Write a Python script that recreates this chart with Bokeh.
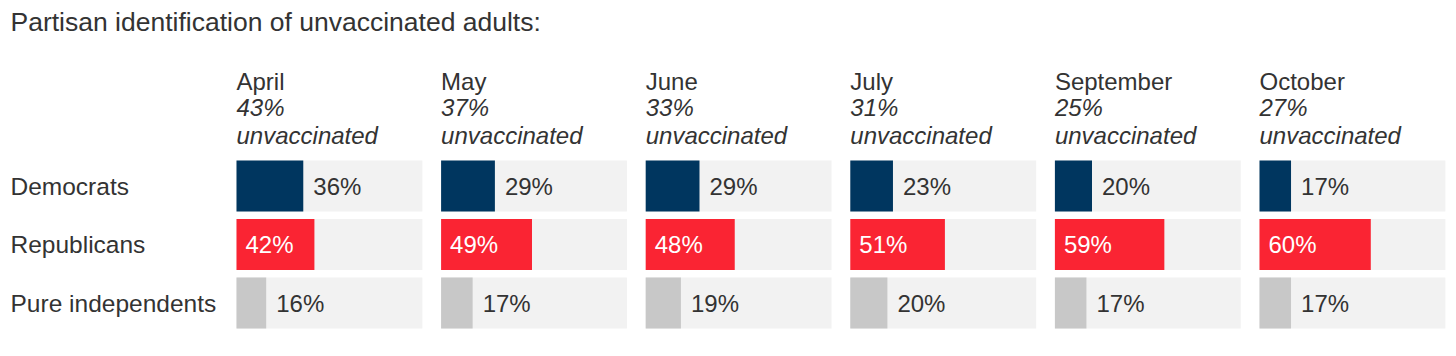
from bokeh.plotting import figure
from bokeh.models import Range1d, ColumnDataSource
from bokeh.core.properties import value
from bokeh.embed import file_html
from bokeh.resources import INLINE

# ---- data ----
months = ["April", "May", "June", "July", "September", "October"]
unvaccinated = [43, 37, 33, 31, 25, 27]
groups = ["Democrats", "Republicans", "Pure independents"]
democrats = [36, 29, 29, 23, 20, 17]
republicans = [42, 49, 48, 51, 59, 60]
independents = [16, 17, 19, 20, 17, 17]
title_text = "Partisan identification of unvaccinated adults:"

# ---- layout ----
W, H = 1450, 350
PX_PER_UNIT = 1.855          # pixels per percentage point
PANEL_LEFT = 236             # canvas px of first panel
PANEL_PITCH = 204.6 / PX_PER_UNIT
ROW0 = 185.5                 # canvas px of first row centre
ROW_PITCH = 58.5
BAR_H = 51 / ROW_PITCH
FONT = value("Liberation Sans")
TXT = "#333333"
FS = "24px"

XSTART = -PANEL_LEFT / PX_PER_UNIT
XEND = (W - PANEL_LEFT) / PX_PER_UNIT
YTOP = -ROW0 / ROW_PITCH
YBOT = (H - ROW0) / ROW_PITCH


def xpx(px):
    return XSTART + px / PX_PER_UNIT


def ypx(px):
    return (px - ROW0) / ROW_PITCH


p = figure(width=W, height=H, output_backend="svg", toolbar_location=None,
           x_range=Range1d(XSTART, XEND), y_range=Range1d(YBOT, YTOP),
           min_border=0, outline_line_color=None)
p.axis.visible = False
p.grid.visible = False
p.background_fill_color = "white"
p.border_fill_color = "white"

series = [democrats, republicans, independents]
colors = ["#00365f", "#fa2433", "#c8c8c8"]

# background tracks
bg = dict(x=[], y=[])
for i in range(len(months)):
    for r in range(len(groups)):
        bg["x"].append(i * PANEL_PITCH + 50.1)
        bg["y"].append(r)
p.rect(x="x", y="y", width=100.2, height=BAR_H, source=ColumnDataSource(bg),
       fill_color="#f2f2f2", line_color=None)

# bars and labels
for r, (vals, col) in enumerate(zip(series, colors)):
    offs = [i * PANEL_PITCH for i in range(len(months))]
    src = ColumnDataSource(dict(
        left=offs, right=[o + v for o, v in zip(offs, vals)],
        y=[r] * len(vals),
        lbl=[f"{v}%" for v in vals],
        lx=[(o + 9 / PX_PER_UNIT) if r == 1 else (o + v + 10 / PX_PER_UNIT)
            for o, v in zip(offs, vals)],
    ))
    p.hbar(left="left", right="right", y="y", height=BAR_H, source=src,
           fill_color=col, line_color=None)
    p.text(x="lx", y="y", text="lbl", source=src,
           text_color="white" if r == 1 else TXT, text_font=FONT,
           text_font_size=FS, text_baseline="middle", text_align="left")

# row labels
p.text(x=[xpx(10)] * 3, y=list(range(3)), text=groups, text_color=TXT,
       text_font=FONT, text_font_size="24.5px", text_baseline="middle",
       text_align="left")

# headers
hx = [i * PANEL_PITCH for i in range(len(months))]
p.text(x=hx, y=[ypx(80.5)] * 6, text=months, text_color=TXT, text_font=FONT,
       text_font_size=FS, text_baseline="middle", text_align="left")
p.text(x=hx, y=[ypx(107)] * 6, text=[f"{u}%" for u in unvaccinated],
       text_color=TXT, text_font=FONT, text_font_size=FS,
       text_font_style="italic", text_baseline="middle", text_align="left")
p.text(x=hx, y=[ypx(134.5)] * 6, text=["unvaccinated"] * 6,
       text_color=TXT, text_font=FONT, text_font_size=FS,
       text_font_style="italic", text_baseline="middle", text_align="left")

# title
p.text(x=[xpx(10)], y=[ypx(21)], text=[title_text], text_color=TXT,
       text_font=FONT, text_font_size="26.5px", text_baseline="middle",
       text_align="left")

open("out.html", "w").write(file_html(p, INLINE))
